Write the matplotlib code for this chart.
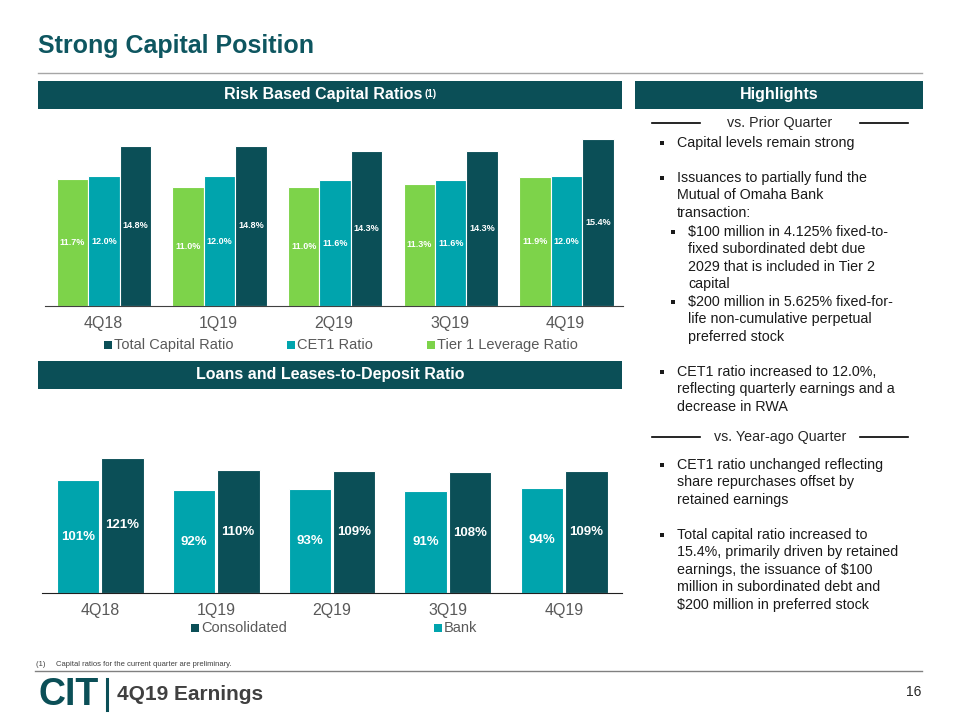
import matplotlib
matplotlib.use("Agg")
import matplotlib.pyplot as plt
from matplotlib.patches import Rectangle
import numpy as np

plt.rcParams['font.family'] = ['Liberation Sans', 'DejaVu Sans']

# data
quarters = ['4Q18', '1Q19', '2Q19', '3Q19', '4Q19']
tier1_leverage = [11.7, 11.0, 11.0, 11.3, 11.9]
cet1_ratio = [12.0, 12.0, 11.6, 11.6, 12.0]
total_capital = [14.8, 14.8, 14.3, 14.3, 15.4]
bank_ratio = [101, 92, 93, 91, 94]
consolidated_ratio = [121, 110, 109, 108, 109]

DARK = '#0B4F57'
TEAL = '#00A4AD'
GREEN = '#7DD34A'
GRAY = '#595959'

W, H = 960, 720
fig = plt.figure(figsize=(9.6, 7.2), dpi=100)

# full-figure overlay in pixel coordinates for the slide furniture
bg = fig.add_axes([0, 0, 1, 1], zorder=0)
bg.set_xlim(0, W)
bg.set_ylim(H, 0)
bg.axis('off')


def px_axes(x0, y0, x1, y1):
    return fig.add_axes([x0 / W, 1 - y1 / H, (x1 - x0) / W, (y1 - y0) / H], zorder=2)


def header(x0, x1, y0, y1, label):
    bg.add_patch(Rectangle((x0, y0), x1 - x0, y1 - y0, color=DARK, lw=0))
    return bg.text((x0 + x1) / 2, (y0 + y1) / 2, label, color='white', fontsize=11.5,
                   fontweight='bold', ha='center', va='center')


# title
bg.text(38, 46, 'Strong Capital Position', color='#0E5660', fontsize=18,
        fontweight='bold', ha='left', va='center')
bg.plot([38, 922], [73, 73], color='#A6A6A6', lw=1)

t = header(38, 622, 81, 109, 'Risk Based Capital Ratios')
t.set_x(323)
bg.annotate('(1)', xy=(1, 1), xycoords=t, xytext=(1.5, -1), textcoords='offset points',
            color='white', fontsize=7, fontweight='bold', ha='left', va='top')
header(635, 923, 81, 109, 'Highlights')
header(38, 622, 361, 389, 'Loans and Leases-to-Deposit Ratio')

# top chart
ax1 = px_axes(45, 130, 623, 306)
x = np.arange(len(quarters))
w = 0.272
series1 = [(tier1_leverage, GREEN, -w), (cet1_ratio, TEAL, 0), (total_capital, DARK, w)]
for vals, col, off in series1:
    bars = ax1.bar(x + off + 0.01, vals, width=w, color=col, edgecolor='white', linewidth=0.8)
    for b, v in zip(bars, vals):
        ax1.text(b.get_x() + b.get_width() / 2, v / 2, f'{v:.1f}%', color='white',
                 fontsize=6.5, fontweight='bold', ha='center', va='center')
ax1.set_xlim(-0.5, 4.5)
ax1.set_ylim(0, 16.25)
ax1.set_yticks([])
for s in ['top', 'right', 'left']:
    ax1.spines[s].set_visible(False)
ax1.spines['bottom'].set_color('#404040')
ax1.set_xticks(x)
ax1.set_xticklabels(quarters, fontsize=11.5, color=GRAY)
ax1.tick_params(axis='x', length=0, pad=7)
ax1.patch.set_alpha(0)

# bottom chart
ax2 = px_axes(42, 450, 622, 593)
w2 = 0.37
series2 = [(bank_ratio, TEAL, -0.19), (consolidated_ratio, DARK, 0.19)]
for vals, col, off in series2:
    bars = ax2.bar(x + off, vals, width=w2, color=col, edgecolor='white', linewidth=0.8)
    for b, v in zip(bars, vals):
        ax2.text(b.get_x() + b.get_width() / 2, v / 2, f'{v}%', color='white',
                 fontsize=9.5, fontweight='bold', ha='center', va='center')
ax2.set_xlim(-0.5, 4.5)
ax2.set_ylim(0, 128)
ax2.set_yticks([])
for s in ['top', 'right', 'left']:
    ax2.spines[s].set_visible(False)
ax2.spines['bottom'].set_color('#202020')
ax2.set_xticks(x)
ax2.set_xticklabels(quarters, fontsize=11.5, color=GRAY)
ax2.tick_params(axis='x', length=0, pad=7)
ax2.patch.set_alpha(0)


def legend_item(xs, y, col, label):
    bg.add_patch(Rectangle((xs, y - 4), 8, 8, color=col, lw=0))
    bg.text(xs + 10, y, label, fontsize=10.5, color=GRAY, ha='left', va='center')


legend_item(104, 345, DARK, 'Total Capital Ratio')
legend_item(287, 345, TEAL, 'CET1 Ratio')
legend_item(427, 345, GREEN, 'Tier 1 Leverage Ratio')
legend_item(191, 628, DARK, 'Consolidated')
legend_item(434, 628, TEAL, 'Bank')

# highlights
TXT = '#1A1A1A'
FS = 10.3


def divider(y, label):
    bg.plot([652, 700], [y, y], color='black', lw=1.2)
    bg.plot([860, 908], [y, y], color='black', lw=1.2)
    bg.text(780, y, label, fontsize=FS, color='#262626', ha='center', va='center')


def bullet(xb, xt, y, lines):
    bg.add_patch(Rectangle((xb - 2, y - 2), 4, 4, color=TXT, lw=0))
    for i, ln in enumerate(lines):
        bg.text(xt, y + i * 17.4, ln, fontsize=FS, color=TXT, ha='left', va='center')


divider(123, 'vs. Prior Quarter')
bullet(662, 677, 143, ['Capital levels remain strong'])
bullet(662, 677, 178, ['Issuances to partially fund the', 'Mutual of Omaha Bank', 'transaction:'])
bullet(673, 688, 232, ['$100 million in 4.125% fixed-to-', 'fixed subordinated debt due',
                       '2029 that is included in Tier 2', 'capital'])
bullet(673, 688, 302, ['$200 million in 5.625% fixed-for-', 'life non-cumulative perpetual',
                       'preferred stock'])
bullet(662, 677, 372, ['CET1 ratio increased to 12.0%,', 'reflecting quarterly earnings and a',
                       'decrease in RWA'])
divider(437, 'vs. Year-ago Quarter')
bullet(662, 677, 465, ['CET1 ratio unchanged reflecting', 'share repurchases offset by',
                       'retained earnings'])
bullet(662, 677, 535, ['Total capital ratio increased to', '15.4%, primarily driven by retained',
                       'earnings, the issuance of $100', 'million in subordinated debt and',
                       '$200 million in preferred stock'])

# footer
bg.text(36, 665, '(1)     Capital ratios for the current quarter are preliminary.',
        fontsize=5.5, color='#404040', ha='left', va='center')
bg.plot([35, 922], [671, 671], color='#808080', lw=1)
bg.text(38, 695, 'CIT', fontsize=27, fontweight='heavy', color=DARK, ha='left', va='center')
bg.plot([107, 107], [679, 710], color=DARK, lw=2.2)
bg.text(117, 694, '4Q19 Earnings', fontsize=15, fontweight='bold', color='#404040',
        ha='left', va='center')
bg.text(921, 692, '16', fontsize=10, color='#262626', ha='right', va='center')

fig.savefig('out.png', dpi=100)
